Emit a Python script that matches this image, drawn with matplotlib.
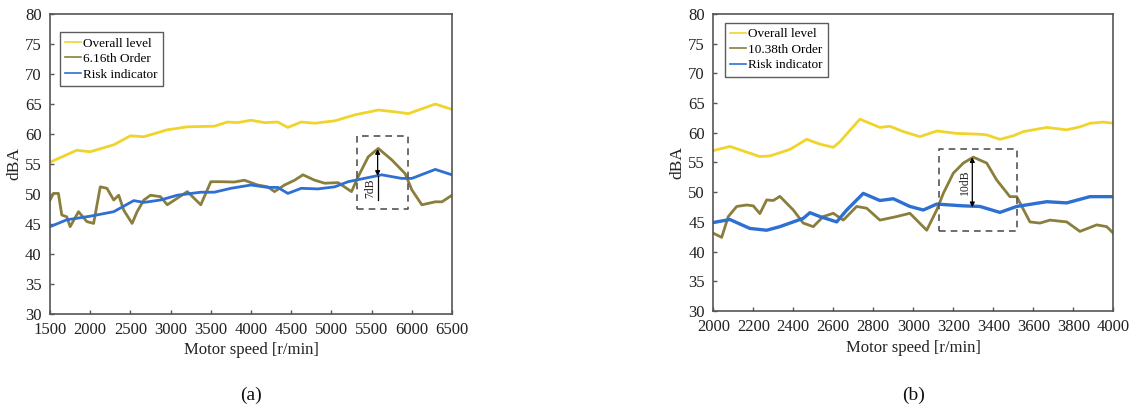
import matplotlib
matplotlib.use("Agg")
import matplotlib.pyplot as plt

plt.rcParams['font.family'] = ['Liberation Serif', 'DejaVu Serif']

# ---------------- Panel (a) data ----------------
a_overall_x = [1500, 1833, 2000, 2292, 2500, 2667, 2958, 3208, 3542, 3708, 3833, 4000,
               4167, 4333, 4458, 4625, 4792, 5042, 5292, 5583, 5792, 5958, 6292, 6500]
a_overall_y = [55.3, 57.3, 57.05, 58.2, 59.7, 59.55, 60.7, 61.2, 61.3, 62.0, 61.9, 62.3,
               61.9, 62.0, 61.1, 62.0, 61.8, 62.2, 63.2, 64.0, 63.7, 63.4, 65.0, 64.1]

a_order_x = [1500, 1542, 1604, 1646, 1708, 1750, 1854, 1958, 2042, 2125, 2208, 2292, 2354,
             2417, 2521, 2583, 2667, 2750, 2875, 2958, 3083, 3208, 3375, 3500, 3625, 3792,
             3917, 4083, 4208, 4292, 4417, 4542, 4646, 4792, 4917, 5083, 5250, 5333, 5458,
             5583, 5750, 5917, 6000, 6125, 6292, 6375, 6500]
a_order_y = [49.0, 50.1, 50.1, 46.5, 46.2, 44.55, 47.05, 45.4, 45.1, 51.2, 50.95, 49.0, 49.8,
             47.3, 45.1, 47.05, 49.0, 49.8, 49.55, 48.2, 49.3, 50.4, 48.2, 52.05, 52.05, 52.0,
             52.3, 51.5, 51.2, 50.4, 51.5, 52.3, 53.2, 52.3, 51.8, 51.9, 50.4, 52.9, 56.2,
             57.6, 55.7, 53.4, 50.7, 48.2, 48.7, 48.7, 49.8]

a_risk_x = [1500, 1708, 2000, 2292, 2542, 2667, 2875, 3083, 3375, 3542, 3750, 4000, 4208,
            4333, 4458, 4625, 4833, 5042, 5208, 5625, 5875, 6000, 6292, 6500]
a_risk_y = [44.55, 45.7, 46.3, 47.05, 48.9, 48.6, 49.0, 49.8, 50.3, 50.3, 50.95, 51.5, 51.1,
            51.1, 50.1, 50.95, 50.85, 51.2, 52.05, 53.2, 52.6, 52.6, 54.1, 53.2]

a_labels = ["Overall level", "6.16th Order", "Risk indicator"]
a_xticks = [1500, 2000, 2500, 3000, 3500, 4000, 4500, 5000, 5500, 6000, 6500]
a_box = [5317, 5950, 47.5, 59.7]        # x0, x1, y0, y1
a_arrow = [5575, 57.5, 53.0, 49.0]      # x, top, arrow bottom, line bottom
a_diff_label = "7dB"

# ---------------- Panel (b) data ----------------
b_overall_x = [2000, 2083, 2233, 2283, 2383, 2467, 2533, 2600, 2633, 2733, 2783, 2833, 2883,
               2950, 3033, 3117, 3217, 3333, 3367, 3433, 3500, 3550, 3667, 3767, 3833, 3883,
               3950, 4000]
b_overall_y = [57.0, 57.7, 56.0, 56.1, 57.2, 58.9, 58.1, 57.55, 58.5, 62.3, 61.6, 60.9, 61.1,
               60.2, 59.35, 60.3, 59.9, 59.75, 59.65, 58.9, 59.5, 60.2, 60.9, 60.5, 61.0, 61.6,
               61.8, 61.6]

b_order_x = [2000, 2042, 2075, 2117, 2167, 2200, 2233, 2267, 2300, 2333, 2400, 2450, 2500,
             2550, 2600, 2650, 2717, 2767, 2833, 2917, 2983, 3067, 3117, 3150, 3200, 3250,
             3300, 3367, 3417, 3483, 3517, 3583, 3633, 3683, 3767, 3833, 3917, 3967, 4000]
b_order_y = [43.1, 42.4, 45.9, 47.6, 47.85, 47.7, 46.4, 48.7, 48.6, 49.3, 47.0, 44.8, 44.2,
             45.9, 46.45, 45.3, 47.6, 47.3, 45.3, 45.9, 46.45, 43.6, 47.0, 49.8, 53.2, 54.9,
             55.9, 54.9, 52.05, 49.25, 49.25, 45.0, 44.8, 45.3, 45.0, 43.4, 44.5, 44.2, 43.1]

b_risk_x = [2000, 2083, 2183, 2267, 2333, 2450, 2483, 2533, 2617, 2667, 2750, 2833, 2900,
            2983, 3050, 3117, 3250, 3333, 3433, 3517, 3667, 3767, 3883, 4000]
b_risk_y = [44.9, 45.4, 43.9, 43.6, 44.2, 45.6, 46.55, 45.9, 45.0, 47.0, 49.8, 48.6, 48.9,
            47.6, 47.0, 48.0, 47.7, 47.6, 46.6, 47.6, 48.4, 48.2, 49.25, 49.25]

b_labels = ["Overall level", "10.38th Order", "Risk indicator"]
b_xticks = [2000, 2200, 2400, 2600, 2800, 3000, 3200, 3400, 3600, 3800, 4000]
b_box = [3130, 3520, 43.5, 57.2]
b_arrow = [3295, 55.9, 47.45, 47.45]
b_diff_label = "10dB"

yticks = [30, 35, 40, 45, 50, 55, 60, 65, 70, 75, 80]

C_OVERALL = '#f1d42b'
C_ORDER = '#8a7e3c'
C_RISK = '#2d6fd2'
SPINE = '#555555'

fig = plt.figure(figsize=(11.32, 4.12), dpi=100)
ax_a = fig.add_axes([0.0442, 0.2379, 0.3551, 0.728])
ax_b = fig.add_axes([0.6301, 0.2451, 0.3534, 0.721])


def draw(ax, ox, oy, rx_, ry_, rkx, rky, labels, xticks, box, arrow, dlabel,
         leg_anchor, blue_lw, sublabel, sub_y):
    l1, = ax.plot(ox, oy, color=C_OVERALL, lw=2.0)
    l2, = ax.plot(rx_, ry_, color=C_ORDER, lw=2.0)
    l3, = ax.plot(rkx, rky, color=C_RISK, lw=blue_lw)
    ax.set_xlim(xticks[0], xticks[-1])
    ax.set_ylim(30, 80)
    ax.set_xticks(xticks)
    ax.set_yticks(yticks)
    ax.tick_params(direction='in', length=3, width=1, colors=SPINE,
                   labelcolor='#222222', labelsize=12)
    ax.tick_params(axis='x', pad=6)
    ax.tick_params(axis='y', pad=6)
    for s in ax.spines.values():
        s.set_color(SPINE)
        s.set_linewidth(1.2)
    ax.set_xlabel("Motor speed [r/min]", fontsize=12, labelpad=3, color='#222222')
    ax.set_ylabel("dBA", fontsize=12.5, labelpad=2, color='#222222')
    # dashed box
    x0, x1, y0, y1 = box
    ax.plot([x0, x1, x1, x0, x0], [y0, y0, y1, y1, y0], ls=(0, (4, 3)),
            color='#555555', lw=1.2)
    xa, ytop, ybot, yline = arrow
    ax.annotate("", xy=(xa, ytop), xytext=(xa, ybot),
                arrowprops=dict(arrowstyle='<|-|>', color='black', lw=0.9,
                                mutation_scale=7, shrinkA=0, shrinkB=0))
    if yline < ybot:
        ax.plot([xa, xa], [ybot, yline], color='black', lw=0.9)
        ty = (ybot + yline) / 2
    else:
        ty = (ytop + ybot) / 2
    dx = (xticks[-1] - xticks[0]) * 0.018
    ax.text(xa - dx, ty, dlabel, rotation=90, ha='center', va='center',
            fontsize=8.5, color='#222222')
    leg = ax.legend([l1, l2, l3], labels, loc='upper left', bbox_to_anchor=leg_anchor,
                    fontsize=9.5, handlelength=1.2, handletextpad=0.15,
                    borderpad=0.4, labelspacing=0.25, fancybox=False,
                    frameon=True, borderaxespad=0)
    leg.get_frame().set_edgecolor('#333333')
    leg.get_frame().set_linewidth(1.0)
    for h in leg.get_lines():
        h.set_linewidth(1.2)
    ax.text(0.5, sub_y, sublabel, transform=ax.transAxes, ha='center', va='center',
            fontsize=14, color='#111111')


draw(ax_a, a_overall_x, a_overall_y, a_order_x, a_order_y, a_risk_x, a_risk_y,
     a_labels, a_xticks, a_box, a_arrow, a_diff_label, (0.025, 0.94), 2.0, "(a)", -0.27)
draw(ax_b, b_overall_x, b_overall_y, b_order_x, b_order_y, b_risk_x, b_risk_y,
     b_labels, b_xticks, b_box, b_arrow, b_diff_label, (0.029, 0.97), 2.4, "(b)", -0.283)

fig.savefig("out.png", dpi=100)
